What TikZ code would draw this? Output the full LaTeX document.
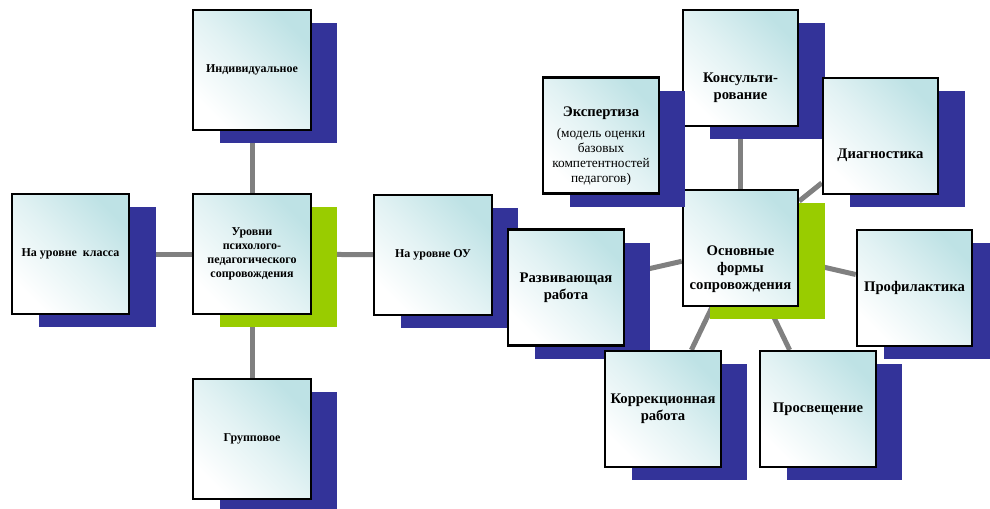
\documentclass[tikz,border=0pt]{standalone}
\usepackage{fontspec}
\setmainfont{Liberation Serif}
\usetikzlibrary{shadows, backgrounds}
\definecolor{shadowblue}{RGB}{51, 51, 153}
\definecolor{leafgreen}{RGB}{153, 204, 0}
\definecolor{linkgray}{RGB}{128, 128, 128}
\definecolor{boxcyan}{RGB}{190, 226, 229}
\newcommand{\notefont}{\fontsize{10}{11.25}\selectfont\mdseries}

\tikzset{
  card/.style={draw=black, line width=1.6pt, top color=boxcyan, bottom color=white,
    middle color=boxcyan!45!white, shading angle=-45, align=center, inner sep=2pt},
  levelbox/.style={card, minimum width=88pt, minimum height=90pt,
    font=\fontsize{9}{10.5}\selectfont\bfseries},
  formbox/.style={card, minimum width=86.5pt, minimum height=87pt,
    font=\fontsize{11}{12.75}\selectfont\bfseries},
  formtext/.style={align=center, inner sep=0pt, font=\fontsize{11}{12.75}\selectfont\bfseries},
  blueshadow/.style={drop shadow={shadow xshift=20pt, shadow yshift=-10pt, fill=shadowblue, opacity=1}},
  greenshadow/.style={drop shadow={shadow xshift=20pt, shadow yshift=-10pt, fill=leafgreen, opacity=1}},
  link/.style={linkgray, line width=3.75pt},
}

\begin{document}
\begin{tikzpicture}[x=0.75pt, y=-0.75pt]
  \useasboundingbox (0, 0) rectangle (990, 508);
  \clip (0, 0) rectangle (990, 508);

  % Levels of support
  \node[levelbox, greenshadow] (levels) at (252, 254) {Уровни\\психолого-\\педагогического\\сопровождения};
  \node[levelbox, blueshadow] (klass) at (70.5, 254) {На уровне~ класса};
  \node[levelbox, blueshadow] (school) at (433, 255) {На уровне ОУ};
  \node[levelbox, blueshadow] (single) at (252, 70) {Индивидуальное};
  \node[levelbox, blueshadow] (group) at (252, 439) {Групповое};

  % Forms of support
  \node[formbox, greenshadow] (forms) at (740.5, 248) {};
  \node[formtext] (forms-t) at (740.5, 269) {Основные\\формы\\сопровождения};
  \node[formbox, blueshadow] (consult) at (740.5, 68) {};
  \node[formtext] (consult-t) at (740.5, 88) {Консульти-\\рование};
  \node[formbox, blueshadow] (diagn) at (880.5, 136) {};
  \node[formtext] (diagn-t) at (880.5, 155) {Диагностика};
  \node[formbox, blueshadow] (expert) at (601, 135.5) {};
  \node[formtext, font=\fontsize{11}{11.25}\selectfont\bfseries] (expert-t) at (601, 146)
    {Экспертиза\\[4pt]\notefont (модель оценки\\\notefont базовых\\\notefont компетентностей\\\notefont педагогов)};
  \node[formbox, blueshadow] (develop) at (566, 287.5) {Развивающая\\работа};
  \node[formbox, blueshadow] (prevent) at (914.5, 288) {Профилактика};
  \node[formbox, blueshadow] (correct) at (663, 409) {Коррекционная\\работа};
  \node[formbox, blueshadow] (educate) at (818, 409) {Просвещение};

  % Links behind the cards
  \begin{scope}[on background layer]
    \foreach \n in {klass, school, single, group}
      \draw[link] (levels) -- (\n);
    \foreach \n in {consult, diagn, expert, develop, prevent, correct, educate}
      \draw[link] (forms) -- (\n);
  \end{scope}
\end{tikzpicture}
\end{document}
